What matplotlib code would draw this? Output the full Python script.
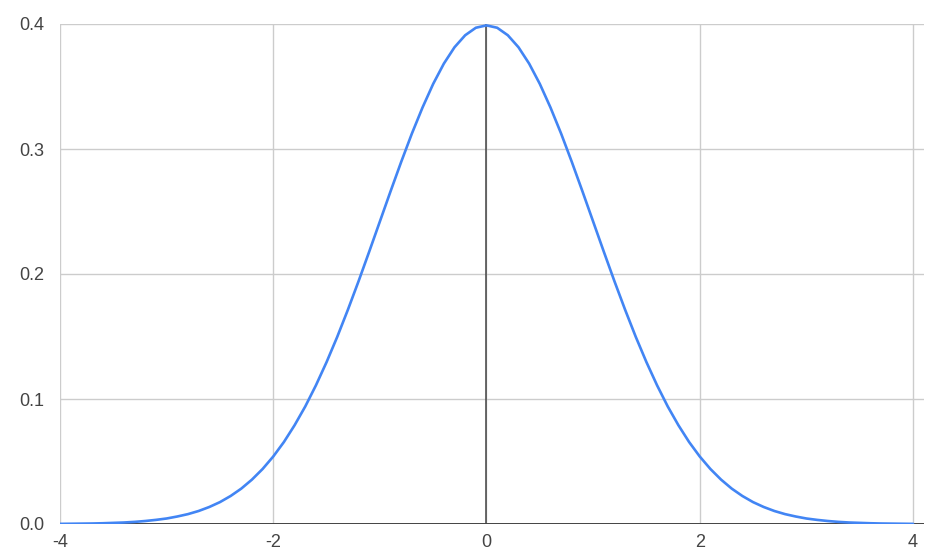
import numpy as np
import matplotlib
matplotlib.use("Agg")
import matplotlib.pyplot as plt

plt.rcParams['font.family'] = ['Liberation Sans', 'DejaVu Sans']

# density values, x = -4.0 .. 4.0 in steps of 0.1
half = [0.3989, 0.3970, 0.3910, 0.3814, 0.3683, 0.3521, 0.3332, 0.3123, 0.2897, 0.2661,
        0.2420, 0.2179, 0.1942, 0.1714, 0.1497, 0.1295, 0.1109, 0.0940, 0.0790, 0.0656,
        0.0540, 0.0440, 0.0355, 0.0283, 0.0224, 0.0175, 0.0136, 0.0104, 0.0079, 0.0060,
        0.0044, 0.0033, 0.0024, 0.0017, 0.0012, 0.0009, 0.0006, 0.0004, 0.0003, 0.0002,
        0.0001]
y_values = half[::-1] + half[1:]
x_values = np.round(np.linspace(-4, 4, len(y_values)), 1)

x_ticks = [-4, -2, 0, 2, 4]
x_tick_labels = ["-4", "-2", "0", "2", "4"]
y_ticks = [0.0, 0.1, 0.2, 0.3, 0.4]
y_tick_labels = ["0.0", "0.1", "0.2", "0.3", "0.4"]

W, H = 940, 557
fig = plt.figure(figsize=(W / 100, H / 100), dpi=100)
left, right, top, bottom = 60, 924, 24, 524
ax = fig.add_axes([left / W, (H - bottom) / H, (right - left) / W, (bottom - top) / H])

ax.set_xlim(-4, 4 + 11 / 106.6)
ax.set_ylim(0, 0.4)

for s in ax.spines.values():
    s.set_visible(False)

grid_c = '#cccccc'
for xt in x_ticks:
    ax.axvline(xt, color=grid_c, lw=1.0, zorder=1)
for yt in y_ticks:
    ax.axhline(yt, color=grid_c, lw=1.0, zorder=1)

ax.axvline(0, color='#444444', lw=1.1, zorder=2)
ax.axhline(0, color='#444444', lw=1.4, zorder=2)

ax.plot(x_values, y_values, color='#4285F4', lw=1.9, zorder=3, solid_capstyle='round')

ax.set_xticks(x_ticks)
ax.set_xticklabels(x_tick_labels)
ax.set_yticks(y_ticks)
ax.set_yticklabels(y_tick_labels)
ax.tick_params(axis='both', length=0, labelsize=13, colors='#444444')
ax.tick_params(axis='x', pad=7)
ax.tick_params(axis='y', pad=11)
for lab in ax.get_xticklabels() + ax.get_yticklabels():
    lab.set_color('#444444')

fig.savefig('out.png', dpi=100)
